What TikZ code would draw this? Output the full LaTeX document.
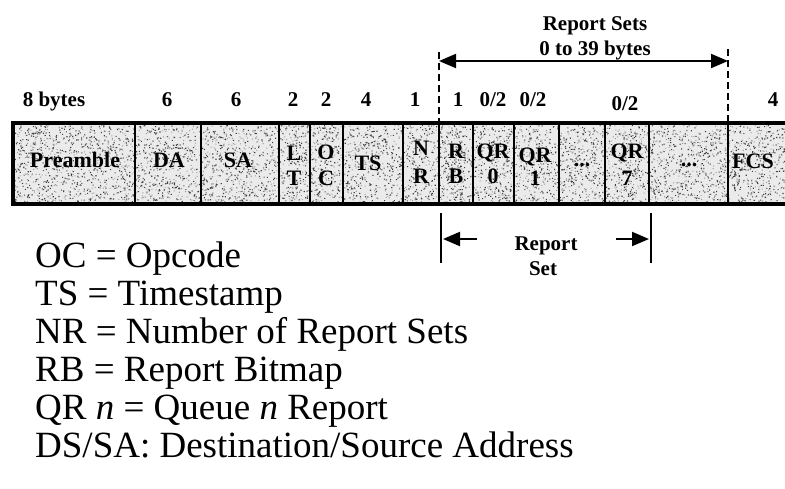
\documentclass[tikz,border=0pt]{standalone}
\usepackage{fontspec}
\setmainfont{Liberation Serif}
\usetikzlibrary{arrows.meta}
\begin{document}
\begin{tikzpicture}[x=1pt,y=-1pt,
  hdr/.style={font=\fontsize{21}{24}\selectfont\bfseries, anchor=base, inner sep=0pt},
  fld/.style={font=\fontsize{22}{24}\selectfont\bfseries, anchor=base, inner sep=0pt},
  legendtxt/.style={font=\fontsize{37}{38}\selectfont, anchor=base west, inner sep=0pt},
  divider/.style={line width=2.2pt},
  dimline/.style={line width=2pt},
  guide/.style={line width=2pt, dash pattern=on 7pt off 4pt},
  tipR/.style={-{Triangle[length=17pt,width=14pt]}},
  tipLR/.style={{Triangle[length=17pt,width=14pt]}-{Triangle[length=17pt,width=14pt]}},
]
\useasboundingbox (0,0) rectangle (785,488);
\clip (0,0) rectangle (785,488);

% ---- frame body: light stippled fill ----
\fill[black!8] (13,123) rectangle (800,204);
\pgfmathsetseed{4711}
\fill[black!75] \foreach \i in {1,...,3400} {
  ({14+rnd*771},{125+rnd*78}) rectangle ++(1.1,1.1)
};
\fill[black!40] \foreach \i in {1,...,2500} {
  ({14+rnd*771},{125+rnd*78}) rectangle ++(1,1)
};

% ---- field dividers ----
\foreach \x in {135,201,279,310,343,403,439,473,514,559,605,649,728} {
  \draw[divider] (\x,123) -- (\x,204);
}
% outer border
\draw[line width=4pt] (800,123) -- (13,123) -- (13,204) -- (800,204);

% ---- field sizes ----
\node[hdr] (s1) at (54,106) {8 bytes};
\node[hdr] (s2) at (167,106) {6};
\node[hdr] (s3) at (236,106) {6};
\node[hdr] (s4) at (293,106) {2};
\node[hdr] (s5) at (326,106) {2};
\node[hdr] (s6) at (366,106) {4};
\node[hdr] (s7) at (415,106) {1};
\node[hdr] (s8) at (458,106) {1};
\node[hdr] (s9) at (493,106) {0/2};
\node[hdr] (s10) at (533,106) {0/2};
\node[hdr] (s11) at (625,110) {0/2};
\node[hdr] (s12) at (773,106) {4};

% ---- field names ----
\node[fld] (pre) at (75,167) {Preamble};
\node[fld] (da) at (169,167) {DA};
\node[fld] (sa) at (238,167) {SA};
\node[fld] (lt1) at (294,160) {L};
\node[fld] (lt2) at (294,185) {T};
\node[fld] (oc1) at (326,159) {O};
\node[fld] (oc2) at (326,185) {C};
\node[fld] (ts) at (368,170) {TS};
\node[fld] (nr1) at (421,155) {N};
\node[fld] (nr2) at (421,183) {R};
\node[fld] (rb1) at (456,158) {R};
\node[fld] (rb2) at (456,183) {B};
\node[fld] (q01) at (493,158) {QR};
\node[fld] (q02) at (493,183) {0};
\node[fld] (q11) at (535,162) {QR};
\node[fld] (q12) at (535,185) {1};
\node[fld] (dots1) at (582,166) {...};
\node[fld] (q71) at (627,158) {QR};
\node[fld] (q72) at (627,185) {7};
\node[fld] (dots2) at (689,166) {...};
\node[fld] (fcs) at (753,168) {FCS};

% ---- report sets span ----
\node[hdr] (rs1) at (595,30) {Report Sets};
\node[hdr] (rs2) at (595,55) {0 to 39 bytes};
\coordinate (gL1) at (439,52);
\coordinate (gL2) at (439,122);
\coordinate (gR1) at (728,49);
\coordinate (gR2) at (728,122);
\draw[guide] (gL1) -- (gL2);
\draw[guide] (gR1) -- (gR2);
\coordinate (aL) at (439,61);
\coordinate (aR) at (728,61);
\draw[dimline, tipLR] (aL) -- (aR);

% ---- single report set ----
\coordinate (bL1) at (441,213);
\coordinate (bL2) at (441,263);
\coordinate (bR1) at (651,213);
\coordinate (bR2) at (651,263);
\draw[dimline] (bL1) -- (bL2);
\draw[dimline] (bR1) -- (bR2);
\node[hdr] (rset1) at (546,250) {Report};
\node[hdr] (rset2) at (543,275) {Set};
\coordinate (cL1) at (477,239);
\coordinate (cL2) at (443,239);
\coordinate (cR1) at (616,239);
\coordinate (cR2) at (649,239);
\draw[dimline, tipR] (cL1) -- (cL2);
\draw[dimline, tipR] (cR1) -- (cR2);

% ---- legend ----
\node[legendtxt] (k1) at (35,267) {OC = Opcode};
\node[legendtxt] (k2) at (35,305) {TS = Timestamp};
\node[legendtxt] (k3) at (35,343) {NR = Number of Report Sets};
\node[legendtxt] (k4) at (35,381) {RB = Report Bitmap};
\node[legendtxt] (k5) at (35,419) {QR \textit{n} = Queue \textit{n} Report};
\node[legendtxt] (k6) at (35,457) {DS/SA: Destination/Source Address};
\end{tikzpicture}
\end{document}
